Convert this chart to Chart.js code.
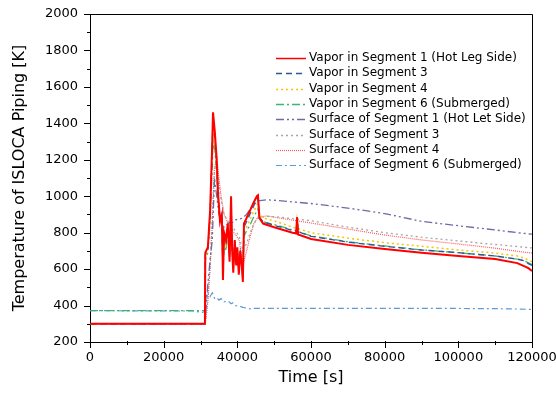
<!DOCTYPE html>
<html>
<head>
<meta charset="utf-8">
<script src="https://cdn.jsdelivr.net/npm/chart.js@4/dist/chart.umd.min.js"></script>
<style>
  html, body { margin: 0; padding: 0; background: #fff; }
</style>
</head>
<body>
<canvas id="tempChart" width="556" height="399"></canvas>
<script>
// vapor nodes: time [s] and temperature [K]
const vaporTime = [0, 31200, 31300, 32000, 32600, 33100, 33400, 33900, 34400, 34750,
  35300, 35800, 36100, 36400, 36900, 37400, 37900, 38300, 38600, 38900,
  39300, 39700, 40000, 40400, 40800, 41200, 41500, 41800, 42500, 43400,
  44300, 45300, 45600, 46000, 47000, 50000, 55000, 56000, 56200, 56500,
  60000, 70000, 80000, 90000, 100000, 110000, 116000, 118000, 119000, 120000];
const vaporSeg1 = [300, 300, 690, 720, 920, 1230, 1460, 1350, 1200, 1020,
  860, 900, 540, 800, 760, 850, 640, 1000, 700, 580,
  760, 620, 720, 570, 700, 620, 530, 850, 880, 920,
  960, 1000, 1005, 880, 850, 830, 800, 795, 885, 790,
  765, 733, 710, 690, 672, 655, 633, 615, 605, 590];
const vaporSeg3 = [300, 300, 680, 710, 900, 1200, 1440, 1320, 1180, 1010,
  870, 880, 560, 790, 740, 830, 660, 980, 710, 600,
  750, 630, 710, 580, 690, 630, 550, 830, 860, 900,
  940, 985, 990, 885, 860, 840, 812, 808, 880, 805,
  780, 748, 725, 705, 690, 672, 655, 645, 630, 620];
const vaporSeg4 = [300, 300, 670, 700, 880, 1150, 1380, 1280, 1150, 990,
  880, 860, 600, 780, 720, 810, 680, 900, 720, 620,
  740, 650, 700, 600, 680, 640, 580, 800, 830, 870,
  910, 950, 960, 900, 880, 865, 830, 825, 870, 822,
  800, 770, 745, 725, 705, 688, 672, 660, 650, 640];
const vaporSeg6 = [372, 372, 650, 690, 860, 1120, 1300, 1250, 1120, 980,
  890, 850, 620, 760, 700, 800, 690, 850, 730, 640,
  730, 660, 690, 610, 670, 650, 600, 780, 810, 840,
  880, 920, 930, 880, 860, 845, 815, 810, 875, 806,
  782, 750, 727, 706, 690, 672, 655, 645, 635, 625];

// wall surface nodes: time [s] and temperature [K]
const surfTime = [0, 28000, 30500, 31200, 31500, 32000, 32600, 33200, 33800, 34400,
  35000, 35600, 36400, 37500, 38300, 38700, 39500, 40500, 41500, 42500,
  43500, 44500, 45600, 48000, 50000, 60000, 70000, 80000, 90000, 100000,
  110000, 116000, 120000];
const surfSeg1 = [300, 300, 300, 300, 380, 520, 650, 760, 1100, 1000,
  900, 860, 830, 850, 860, 855, 870, 875, 880, 900,
  930, 955, 975, 980, 978, 960, 935, 905, 862, 838,
  815, 800, 792];
const surfSeg3 = [300, 300, 300, 300, 340, 450, 620, 900, 1150, 1180,
  1060, 980, 900, 860, 840, 830, 810, 780, 700, 740,
  800, 850, 880, 890, 888, 866, 830, 800, 775, 755,
  735, 724, 716];
const surfSeg4 = [300, 300, 300, 300, 330, 420, 600, 850, 1150, 1220,
  1100, 1000, 900, 850, 820, 810, 790, 760, 620, 700,
  780, 850, 885, 892, 885, 853, 820, 787, 760, 738,
  715, 698, 688];
const surfSeg6 = [372, 370, 362, 368, 440, 475, 450, 470, 440, 445,
  430, 438, 420, 425, 410, 415, 400, 398, 390, 386,
  382, 384, 385, 385, 385, 385, 385, 385, 385, 384,
  383, 381, 379];

const xTickLabels = [0, 20000, 40000, 60000, 80000, 100000, 120000];
const yTickLabels = [200, 400, 600, 800, 1000, 1200, 1400, 1600, 1800, 2000];

const pts = (ts, vs) => ts.map((t, i) => ({ x: t, y: vs[i] }));

const series = [
  { label: 'Vapor in Segment 1 (Hot Leg Side)', data: pts(vaporTime, vaporSeg1), color: '#ff0000', dash: [], width: 2 },
  { label: 'Vapor in Segment 3', data: pts(vaporTime, vaporSeg3), color: '#2f5597', dash: [6, 4], width: 1.3 },
  { label: 'Vapor in Segment 4', data: pts(vaporTime, vaporSeg4), color: '#ffc000', dash: [2, 3], width: 1.5 },
  { label: 'Vapor in Segment 6 (Submerged)', data: pts(vaporTime, vaporSeg6), color: '#3cb371', dash: [8, 3, 2, 3], width: 1.3 },
  { label: 'Surface of Segment 1 (Hot Let Side)', data: pts(surfTime, surfSeg1), color: '#6b6ba6', dash: [8, 3, 2, 3, 2, 3], width: 1.3 },
  { label: 'Surface of Segment 3', data: pts(surfTime, surfSeg3), color: '#a6a6a6', dash: [2, 3], width: 1.3 },
  { label: 'Surface of Segment 4', data: pts(surfTime, surfSeg4), color: '#ff5a5a', dash: [1, 1], width: 1.2 },
  { label: 'Surface of Segment 6 (Submerged)', data: pts(surfTime, surfSeg6), color: '#5b9bd5', dash: [6, 3, 2, 3], width: 1.2 }
];

// frame on top/right plus major and minor tick marks
const frameTicks = {
  id: 'frameTicks',
  afterDraw(chart) {
    const { ctx, chartArea: a, scales: { x, y } } = chart;
    ctx.save();
    ctx.strokeStyle = '#000';
    ctx.lineWidth = 1;
    ctx.beginPath();
    ctx.moveTo(a.left, a.top + 0.5);
    ctx.lineTo(a.right + 0.5, a.top + 0.5);
    ctx.lineTo(a.right + 0.5, a.bottom);
    for (let v = 200; v <= 2000; v += 100) {
      const py = Math.round(y.getPixelForValue(v)) + 0.5;
      const len = yTickLabels.includes(v) ? 6 : 3;
      ctx.moveTo(a.left - len, py);
      ctx.lineTo(a.left, py);
    }
    for (let v = 0; v <= 120000; v += 10000) {
      const px = Math.round(x.getPixelForValue(v)) + 0.5;
      const len = xTickLabels.includes(v) ? 6 : 3;
      ctx.moveTo(px, a.bottom - 1);
      ctx.lineTo(px, a.bottom + len);
    }
    ctx.stroke();
    ctx.restore();
  }
};

// legend drawn inside the plot area, upper right
const insideLegend = {
  id: 'insideLegend',
  afterDraw(chart) {
    const ctx = chart.ctx;
    ctx.save();
    ctx.font = '12px "DejaVu Sans"';
    ctx.textBaseline = 'middle';
    ctx.fillStyle = '#000';
    chart.data.datasets.forEach((ds, i) => {
      const ly = 58 + i * 15.3;
      ctx.strokeStyle = ds.borderColor;
      ctx.lineWidth = Math.min(ds.borderWidth, 1.5);
      ctx.setLineDash(ds.borderDash);
      ctx.beginPath();
      ctx.moveTo(276, Math.round(ly) + 0.5);
      ctx.lineTo(306, Math.round(ly) + 0.5);
      ctx.stroke();
      ctx.setLineDash([]);
      ctx.fillText(ds.label, 309, ly);
    });
    ctx.restore();
  }
};

new Chart(document.getElementById('tempChart'), {
  type: 'line',
  data: {
    datasets: series.map(s => ({
      label: s.label,
      data: s.data,
      borderColor: s.color,
      borderDash: s.dash,
      borderWidth: s.width,
      pointRadius: 0,
      tension: 0,
      fill: false
    }))
  },
  options: {
    responsive: false,
    animation: false,
    devicePixelRatio: 1,
    layout: { padding: { top: 14, right: 24, left: 0, bottom: 0 } },
    plugins: { legend: { display: false }, tooltip: { enabled: false } },
    scales: {
      x: {
        type: 'linear',
        min: 0,
        max: 120000,
        afterFit: s => { s.height = 57; s.paddingLeft = 0; s.paddingRight = 0; },
        grid: { display: false, drawTicks: false },
        border: { display: true, color: '#000', width: 1 },
        ticks: {
          stepSize: 10000,
          autoSkip: false,
          maxRotation: 0,
          padding: 8,
          color: '#000',
          font: { family: '"DejaVu Sans"', size: 13 },
          callback: v => xTickLabels.includes(v) ? String(v) : ''
        },
        title: {
          display: true,
          text: 'Time [s]',
          color: '#000',
          font: { family: '"DejaVu Sans"', size: 16 },
          padding: { top: 0, bottom: 12 }
        }
      },
      y: {
        min: 200,
        max: 2000,
        afterFit: s => { s.width = 90; s.paddingTop = 0; s.paddingBottom = 0; },
        grid: { display: false, drawTicks: false },
        border: { display: true, color: '#000', width: 1 },
        ticks: {
          stepSize: 100,
          autoSkip: false,
          padding: 12,
          color: '#000',
          font: { family: '"DejaVu Sans"', size: 13 },
          callback: v => yTickLabels.includes(v) ? String(v) : ''
        },
        title: {
          display: true,
          text: 'Temperature of ISLOCA Piping [K]',
          color: '#000',
          font: { family: '"DejaVu Sans"', size: 16 },
          padding: { top: 10, bottom: 0 }
        }
      }
    }
  },
  plugins: [frameTicks, insideLegend]
});
</script>
</body>
</html>
